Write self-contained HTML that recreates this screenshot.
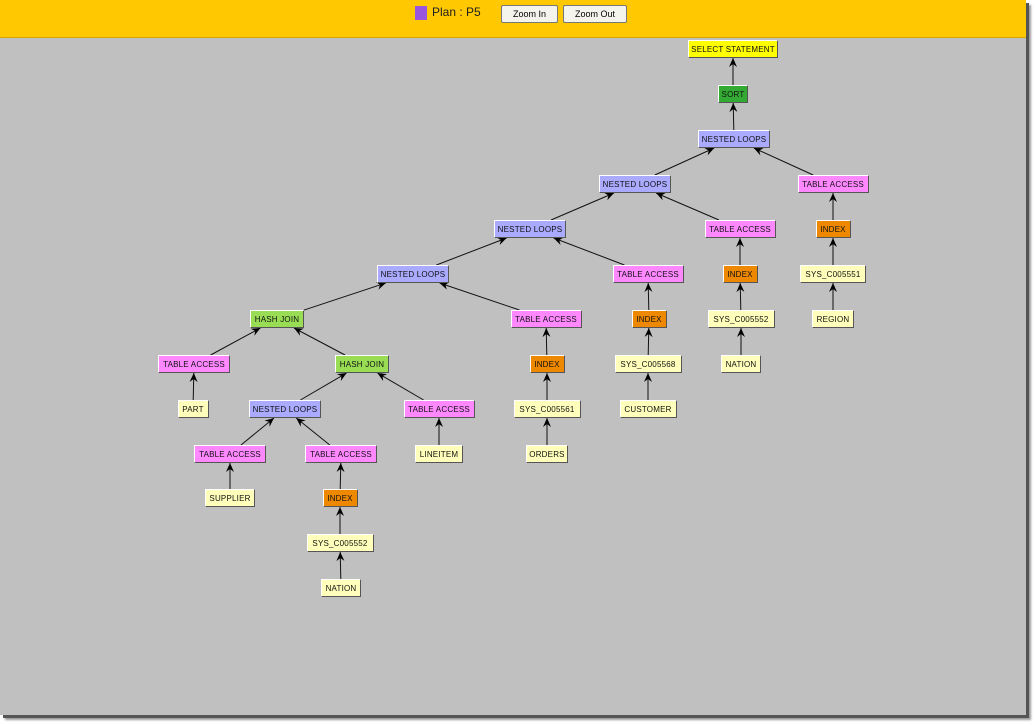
<!DOCTYPE html>
<html><head><meta charset="utf-8"><style>
body{margin:0;width:1036px;height:726px;background:#fff;overflow:hidden;position:relative;font-family:"Liberation Sans",sans-serif}
#pg{position:absolute;left:0;top:0;width:1026px;height:715px;background:#c0c0c0;box-shadow:3px 3px 0 #555,5px 5px 2px #999}
#hd{position:absolute;left:0;top:0;width:1026px;height:37px;background:#ffc800;border-bottom:1px solid #d8a800}
.btn{position:absolute;top:5px;height:16px;background:#f4f4ec;border:1px solid #777;border-radius:2px;font-size:9px;line-height:16px;text-align:center}
.n{position:absolute;height:18px;font-size:8px;line-height:18px;text-align:center;color:#111;box-sizing:border-box;border:1px solid;border-color:#fff #555 #555 #fff;white-space:nowrap;letter-spacing:0.2px}
</style></head><body>
<div id="pg"><div id="hd">
<div style="position:absolute;left:415px;top:6px;width:12px;height:14px;background:#9955dd"></div>
<div style="position:absolute;left:432px;top:5px;font-size:12px;color:#222">Plan : P5</div>
<div class="btn" style="left:501px;width:55px">Zoom In</div>
<div class="btn" style="left:563px;width:62px">Zoom Out</div>
</div>
<svg id="sv" width="1026" height="715" style="position:absolute;left:0;top:0"></svg>
<div id="nodes"></div>
</div>
<script>
const C={y:'#ffff00',s:'#33aa33',p:'#aaaaff',t:'#ff88ff',o:'#ee8800',l:'#ffffbb',h:'#99dd55'};
const N=[
[0,'SELECT STATEMENT',733,49,90,'y',-1],
[1,'SORT',733,94,30,'s',0],
[2,'NESTED LOOPS',734,139,72,'p',1],
[3,'NESTED LOOPS',635,184,72,'p',2],
[4,'TABLE ACCESS',833,184,71,'t',2],
[5,'NESTED LOOPS',530,229,72,'p',3],
[6,'TABLE ACCESS',740,229,71,'t',3],
[7,'INDEX',833,229,35,'o',4],
[8,'NESTED LOOPS',413,274,72,'p',5],
[9,'TABLE ACCESS',648,274,71,'t',5],
[10,'INDEX',740,274,35,'o',6],
[11,'SYS_C005551',833,274,66,'l',7],
[12,'HASH JOIN',277,319,54,'h',8],
[13,'TABLE ACCESS',546,319,71,'t',8],
[14,'INDEX',649,319,35,'o',9],
[15,'SYS_C005552',741,319,67,'l',10],
[16,'REGION',833,319,42,'l',11],
[17,'TABLE ACCESS',194,364,72,'t',12],
[18,'HASH JOIN',362,364,54,'h',12],
[19,'INDEX',547,364,35,'o',13],
[20,'SYS_C005568',648,364,67,'l',14],
[21,'NATION',741,364,40,'l',15],
[22,'PART',193,409,31,'l',17],
[23,'NESTED LOOPS',285,409,72,'p',18],
[24,'TABLE ACCESS',439,409,71,'t',18],
[25,'SYS_C005561',547,409,67,'l',19],
[26,'CUSTOMER',648,409,57,'l',20],
[27,'TABLE ACCESS',230,454,72,'t',23],
[28,'TABLE ACCESS',341,454,72,'t',23],
[29,'LINEITEM',439,454,48,'l',24],
[30,'ORDERS',547,454,42,'l',25],
[31,'SUPPLIER',230,498,50,'l',27],
[32,'INDEX',340,498,35,'o',28],
[33,'SYS_C005552',340,543,67,'l',32],
[34,'NATION',341,588,40,'l',33]];
let h='',s='';
const H=9;
function clip(cx,cy,w,dx,dy){let t=1e9;if(dx)t=Math.min(t,(w/2)/Math.abs(dx));if(dy)t=Math.min(t,H/Math.abs(dy));return [cx+dx*t,cy+dy*t];}
for(const n of N){
 h+=`<div class="n" style="left:${n[2]-n[4]/2}px;top:${n[3]-9}px;width:${n[4]}px;background:${C[n[5]]}">${n[1]}</div>`;
 if(n[6]>=0){const p=N[n[6]];const dx=p[2]-n[2],dy=p[3]-n[3];
  const a=clip(n[2],n[3],n[4],dx,dy),b=clip(p[2],p[3],p[4],-dx,-dy);
  const L=Math.hypot(b[0]-a[0],b[1]-a[1]),ux=(b[0]-a[0])/L,uy=(b[1]-a[1])/L;
  const bx=b[0]-ux*9,by=b[1]-uy*9;
  s+=`<line x1="${a[0]}" y1="${a[1]}" x2="${b[0]}" y2="${b[1]}" stroke="#111" stroke-width="1"/>`;
  s+=`<polygon points="${b[0]},${b[1]} ${bx-uy*4},${by+ux*4} ${b[0]-ux*6},${b[1]-uy*6} ${bx+uy*4},${by-ux*4}" fill="#000"/>`;}
}
document.getElementById('nodes').innerHTML=h;document.getElementById('sv').innerHTML=s;
</script>
</body></html>
